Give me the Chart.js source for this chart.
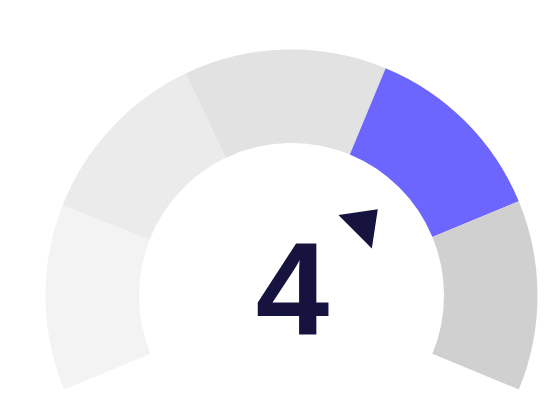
<!DOCTYPE html>
<html>
<head>
<meta charset="utf-8">
<script src="https://cdn.jsdelivr.net/npm/chart.js@4"></script>
<style>
  html, body { margin: 0; padding: 0; background: #ffffff; }
  #wrap { width: 549px; height: 411px; position: relative; }
</style>
</head>
<body>
<div id="wrap"><canvas id="c" width="549" height="411"></canvas></div>
<script>
// ---- data ----
const categories = ['1', '2', '3', '4', '5'];
const segmentValues = [44, 43, 48, 45, 45];
const score = 4;            // shown value, needle points at the middle of its segment
const scoreLabel = '4';

const segmentColors = ['#f3f3f3', '#ebebeb', '#e2e2e2', '#6c66ff', '#d0d0d0'];
const inkColor = '#16133f';

const gaugePlugin = {
  id: 'gauge',
  afterDatasetsDraw(chart) {
    const meta = chart.getDatasetMeta(0);
    const idx = categories.indexOf(String(score));
    const arc = meta.data[idx];
    if (!arc) return;
    const p = arc.getProps(['x', 'y', 'startAngle', 'endAngle', 'innerRadius', 'outerRadius'], true);
    const cx = p.x, cy = p.y;
    const ang = (p.startAngle + p.endAngle) / 2;
    const ctx = chart.ctx;
    // needle triangle
    const tipR = p.innerRadius * 0.80;
    const baseR = p.innerRadius * 0.59;
    const halfW = p.innerRadius * 0.155;
    const ux = Math.cos(ang), uy = Math.sin(ang);
    const px = -uy, py = ux;
    ctx.save();
    ctx.fillStyle = inkColor;
    ctx.beginPath();
    ctx.moveTo(cx + ux * tipR, cy + uy * tipR);
    ctx.lineTo(cx + ux * baseR + px * halfW, cy + uy * baseR + py * halfW);
    ctx.lineTo(cx + ux * baseR - px * halfW, cy + uy * baseR - py * halfW);
    ctx.closePath();
    ctx.fill();
    // value label
    ctx.font = 'bold 132px "Liberation Sans", Arial, sans-serif';
    ctx.textAlign = 'center';
    ctx.textBaseline = 'alphabetic';
    ctx.fillText(scoreLabel, cx + 1, cy + 39);
    ctx.restore();
  }
};

new Chart(document.getElementById('c'), {
  type: 'doughnut',
  data: {
    labels: categories,
    datasets: [{
      data: segmentValues,
      backgroundColor: segmentColors,
      borderWidth: 0,
      hoverOffset: 0
    }]
  },
  options: {
    responsive: false,
    animation: false,
    rotation: -112.5,
    circumference: 225,
    cutout: '62%',
    radius: 246,
    layout: { padding: { left: 34, right: 0, top: 28, bottom: 0 } },
    plugins: {
      legend: { display: false },
      tooltip: { enabled: false }
    },
    events: []
  },
  plugins: [gaugePlugin]
});
</script>
</body>
</html>
